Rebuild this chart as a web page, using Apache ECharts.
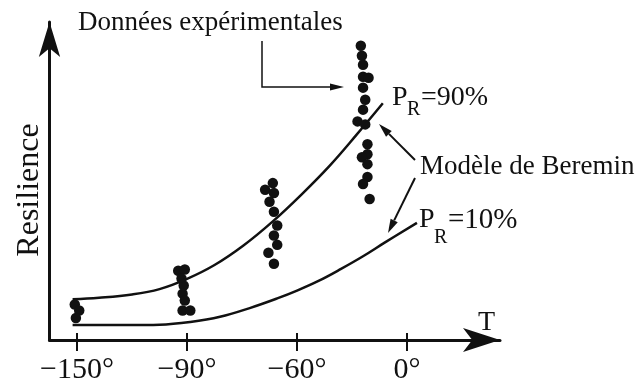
<!DOCTYPE html>
<html>
<head>
<meta charset="utf-8">
<script src="https://cdn.jsdelivr.net/npm/echarts@6/dist/echarts.min.js"></script>
<style>
  html, body { margin: 0; padding: 0; background: #fff; }
  #chart { width: 641px; height: 385px; }
</style>
</head>
<body>
<div id="chart"></div>
<script>
// x is measured in tick steps: the figure spaces -150°, -90°, -60°, 0° evenly
const tickPos = [0, 1, 2, 3];
const tickLabels = ['−150°', '−90°', '−60°', '0°'];

// Données expérimentales (x in tick steps, resilience in arbitrary units)
const dotX = [-0.02, 0.02, -0.01,
  0.92, 0.98, 0.95, 0.97, 0.96, 0.98, 0.96, 1.03,
  1.78, 1.71, 1.79, 1.75, 1.79, 1.82, 1.79, 1.82, 1.74, 1.79,
  2.58, 2.59, 2.60, 2.60, 2.65, 2.60, 2.62, 2.60, 2.55, 2.62, 2.64, 2.64, 2.59, 2.64, 2.64, 2.60, 2.66];
const dotY = [11.8, 9.8, 7.3,
  23.0, 23.4, 20.4, 18.1, 15.4, 13.1, 9.8, 9.8,
  52.1, 49.9, 48.8, 45.9, 42.6, 38.0, 34.7, 31.6, 29.0, 25.3,
  97.7, 94.4, 91.4, 87.4, 87.1, 83.8, 79.8, 76.5, 72.6, 71.6, 65.0, 61.7, 60.7, 58.4, 54.1, 51.8, 46.8];

// Modèle de Beremin, P_R = 90%
const pr90X = [-0.04, 0.2, 0.5, 0.75, 1.0, 1.25, 1.51, 1.78, 2.04, 2.3, 2.54, 2.78];
const pr90Y = [13.5, 14.0, 15.1, 16.9, 20.3, 24.9, 31.3, 39.4, 48.3, 58.0, 68.1, 78.6];

// Modèle de Beremin, P_R = 10%
const pr10X = [-0.04, 0.48, 0.75, 1.03, 1.30, 1.57, 1.82, 2.0, 2.2, 2.4, 2.6, 2.8, 3.09];
const pr10Y = [5.0, 5.0, 5.1, 6.0, 7.7, 10.6, 13.8, 16.4, 19.7, 23.6, 27.8, 32.4, 38.9];

const ink = '#111';
const serif = '"Liberation Serif", "DejaVu Serif", serif';
const zip = (xs, ys) => xs.map((x, i) => [x, ys[i]]);

// straight annotation arrow with a filled head
function arrow(x1, y1, x2, y2, len, half, width) {
  const d = Math.hypot(x2 - x1, y2 - y1);
  const ux = (x2 - x1) / d, uy = (y2 - y1) / d;
  const bx = x2 - ux * len, by = y2 - uy * len;
  return [
    { type: 'polyline', shape: { points: [[x1, y1], [bx, by]] }, style: { stroke: ink, lineWidth: width, fill: null } },
    { type: 'polygon', shape: { points: [[x2, y2], [bx - uy * half, by + ux * half], [bx + uy * half, by - ux * half]] }, style: { fill: ink } }
  ];
}
function label(x, y, text, size) {
  return { type: 'text', x: x, y: y, style: { text: text, font: size + 'px ' + serif, fill: ink, align: 'left', verticalAlign: 'middle' } };
}

const chart = echarts.init(document.getElementById('chart'));

chart.setOption({
  animation: false,
  backgroundColor: '#fff',
  grid: { left: 49.5, right: 141, top: 22, bottom: 43 },
  xAxis: [{
    type: 'value',
    min: -0.25,
    max: 3.845,
    axisLine: { show: true, onZero: false, symbol: ['none', 'arrow'], symbolSize: [18, 37], lineStyle: { color: ink, width: 3 } },
    axisTick: { show: true, customValues: tickPos, length: 11, lineStyle: { color: ink, width: 2 } },
    axisLabel: {
      customValues: tickPos,
      formatter: v => tickLabels[Math.round(v)],
      margin: 15,
      color: ink,
      fontFamily: serif,
      fontSize: 30
    },
    splitLine: { show: false }
  }, {
    // upper half of the ticks that cross the axis line
    type: 'value',
    position: 'top',
    offset: -320,
    min: -0.25,
    max: 3.845,
    axisLine: { show: false, onZero: false },
    axisTick: { show: true, customValues: tickPos, length: 9, lineStyle: { color: ink, width: 2 } },
    axisLabel: { show: false },
    splitLine: { show: false }
  }],
  yAxis: {
    type: 'value',
    min: 0,
    max: 105.6,
    name: 'Resilience',
    nameLocation: 'middle',
    nameRotate: 90,
    nameGap: 4,
    nameTextStyle: { color: ink, fontFamily: serif, fontSize: 32, padding: [0, 18, 0, 0] },
    axisLine: { show: true, onZero: false, symbol: ['none', 'arrow'], symbolSize: [16, 35], lineStyle: { color: ink, width: 3 } },
    axisTick: { show: false },
    axisLabel: { show: false },
    splitLine: { show: false }
  },
  series: [{
    name: 'P_R = 90%',
    type: 'line',
    data: zip(pr90X, pr90Y),
    smooth: 0.4,
    showSymbol: false,
    lineStyle: { color: ink, width: 2.5 }
  }, {
    name: 'P_R = 10%',
    type: 'line',
    data: zip(pr10X, pr10Y),
    smooth: 0.4,
    showSymbol: false,
    lineStyle: { color: ink, width: 2.5 }
  }, {
    name: 'Données expérimentales',
    type: 'scatter',
    data: zip(dotX, dotY),
    symbolSize: 10.5,
    itemStyle: { color: ink, opacity: 1 }
  }],
  graphic: [
    label(78, 22.5, 'Données expérimentales', 27),
    { type: 'polyline', shape: { points: [[262, 41], [262, 87], [332, 87]] }, style: { stroke: ink, lineWidth: 1.5, fill: null } },
    ...arrow(330, 87, 344, 87, 14, 3.5, 1.5),
    label(392, 98, 'P', 28),
    label(407, 110, 'R', 20),
    label(421, 98, '=90%', 28),
    label(420, 166.5, 'Modèle de Beremin', 27),
    ...arrow(415, 160, 379, 124, 14, 4, 2),
    ...arrow(415, 178, 388, 233, 14, 4, 2),
    label(419, 220, 'P', 28),
    label(434, 238, 'R', 20),
    label(448, 220, '=10%', 29),
    label(478, 323, 'T', 28)
  ]
});
</script>
</body>
</html>
